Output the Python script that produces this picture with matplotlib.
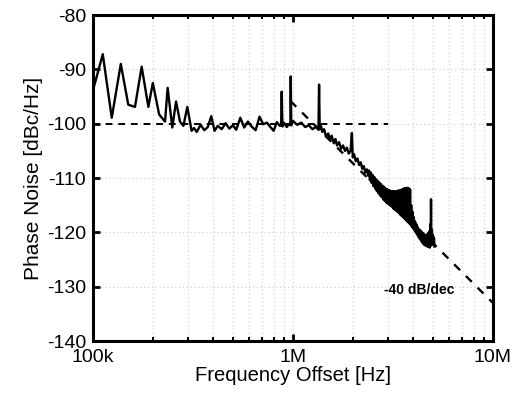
import matplotlib
matplotlib.use("Agg")
from matplotlib import pyplot as plt
from matplotlib.ticker import FixedLocator, FixedFormatter, NullFormatter
import numpy as np

plt.rcParams['font.family'] = ['Liberation Sans', 'DejaVu Sans']
plt.rcParams['axes.unicode_minus'] = False

# measured phase noise trace, low offsets (Hz, dBc/Hz)
f_low = [100e3, 111.8e3, 124e3, 137.6e3, 150e3, 162e3, 175e3, 189e3, 199e3,
         214e3, 229e3, 236e3, 249e3, 260e3, 272e3, 283e3, 296e3, 311e3]
pn_low = [-93.8, -87.2, -98.9, -89.0, -96.5, -96.9, -89.5, -96.9, -92.5,
          -98.3, -99.6, -93.4, -100.7, -95.9, -99.6, -100.4, -96.9, -101.3]

# flat region up to 1 MHz
f_mid = [320e3, 330e3, 345e3, 360e3, 375e3, 390e3, 405e3, 420e3, 440e3, 460e3,
         480e3, 500e3, 520e3, 545e3, 570e3, 595e3, 620e3, 650e3, 680e3, 710e3,
         740e3, 770e3, 800e3, 830e3, 860e3, 872e3, 878e3, 885e3, 900e3, 930e3,
         960e3, 970e3, 974e3, 980e3]
pn_mid = [-100.8, -101.5, -100.2, -101.2, -100.6, -98.6, -101.3, -100.4, -101.0, -99.9,
          -100.9, -100.3, -101.1, -98.9, -100.7, -99.6, -100.5, -101.2, -98.7, -100.1,
          -99.8, -100.6, -101.3, -99.7, -100.4, -100.2, -94.1, -100.5, -99.8, -100.6,
          -100.0, -100.2, -91.3, -100.3]

# start of the roll-off, 1 MHz to 2.4 MHz
f_roll = [1.0, 1.05, 1.1, 1.15, 1.2, 1.25, 1.3, 1.34, 1.35, 1.36,
          1.38, 1.40, 1.43, 1.46, 1.50, 1.53, 1.56, 1.60, 1.63, 1.66,
          1.70, 1.74, 1.78, 1.82, 1.86, 1.90, 1.94, 1.97, 1.99, 2.02,
          2.06, 2.10, 2.14, 2.18, 2.22, 2.26, 2.30, 2.34, 2.38]
pn_roll = [-99.5, -100.2, -99.8, -100.6, -100.3, -101.0, -100.6, -101.1, -92.8, -101.0,
           -100.4, -101.5, -101.0, -102.3, -101.8, -103.0, -102.2, -103.6, -102.8, -104.0,
           -103.4, -104.6, -104.0, -105.0, -104.4, -105.5, -105.0, -101.7, -106.2, -105.6,
           -106.9, -106.4, -107.6, -107.1, -108.3, -107.8, -109.0, -108.4, -109.6]

# dense noisy band, 2.4 MHz to 5.1 MHz
f_band = [2.400, 2.425, 2.450, 2.475, 2.500, 2.525, 2.550, 2.575, 2.600, 2.625,
          2.650, 2.675, 2.700, 2.725, 2.750, 2.775, 2.800, 2.825, 2.850, 2.875,
          2.900, 2.925, 2.950, 2.975, 3.000, 3.025, 3.050, 3.075, 3.100, 3.125,
          3.150, 3.175, 3.200, 3.225, 3.250, 3.275, 3.300, 3.325, 3.350, 3.375,
          3.400, 3.425, 3.450, 3.475, 3.500, 3.525, 3.550, 3.575, 3.600, 3.625,
          3.650, 3.675, 3.700, 3.725, 3.750, 3.775, 3.800, 3.825, 3.850, 3.875,
          3.900, 3.930, 3.960, 3.990, 4.020, 4.050, 4.080, 4.110, 4.140, 4.170,
          4.200, 4.230, 4.260, 4.290, 4.320, 4.350, 4.380, 4.410, 4.440, 4.470,
          4.500, 4.530, 4.560, 4.590, 4.620, 4.650, 4.680, 4.710, 4.740, 4.770,
          4.800, 4.830, 4.860, 4.880, 4.900, 4.920, 4.950, 4.980, 5.010, 5.040,
          5.070, 5.100]
pn_band = [-108.6, -110.4, -109.0, -110.9, -109.4, -111.5, -109.8, -111.9, -110.2, -112.4,
           -110.5, -112.8, -110.8, -113.2, -111.1, -113.5, -111.4, -113.9, -111.6, -114.2,
           -111.9, -114.5, -112.0, -114.7, -112.2, -114.9, -112.3, -115.1, -112.4, -115.3,
           -112.4, -115.6, -112.4, -115.8, -112.5, -116.0, -112.4, -116.2, -112.3, -116.4,
           -112.3, -116.7, -112.2, -116.9, -112.1, -117.1, -112.0, -117.3, -111.9, -117.5,
           -111.9, -117.8, -111.8, -118.0, -111.8, -118.2, -111.9, -118.4, -112.1, -118.6,
           -115.0, -119.0, -116.2, -119.3, -117.2, -119.6, -118.0, -120.0, -118.5, -120.4,
           -119.0, -120.8, -119.4, -121.1, -119.7, -121.4, -120.1, -121.8, -120.4, -122.1,
           -120.6, -122.3, -120.6, -122.4, -120.5, -122.5, -120.4, -122.6, -120.1, -122.7,
           -119.8, -122.8, -118.5, -122.5, -113.9, -121.5, -119.5, -122.3, -120.5, -122.2,
           -121.0, -122.6]

# asymptote lines
flat_f = [100e3, 3e6]
flat_pn = [-100, -100]
slope_f = [0.97e6, 10e6]
slope_pn = [-95.8, -133.0]

freq = f_low + f_mid + [v * 1e6 for v in f_roll + f_band]
pn = pn_low + pn_mid + pn_roll + pn_band

fig = plt.figure(figsize=(5.2, 3.97), dpi=100)
ax = fig.add_axes([0.179, 0.141, 0.769, 0.821])

ax.plot(slope_f, slope_pn, color='black', lw=1.7, dashes=(3.5, 3.5))
ax.plot(flat_f, flat_pn, color='black', lw=1.4, dashes=(3.5, 3))
ax.plot(freq, pn, color='black', lw=1.7)

ax.set_xscale('log')
ax.set_xlim(1e5, 1e7)
ax.set_ylim(-140, -80)
ax.xaxis.set_major_locator(FixedLocator([1e5, 1e6, 1e7]))
ax.xaxis.set_major_formatter(FixedFormatter(['100k', '1M', '10M']))
ax.xaxis.set_minor_locator(FixedLocator([k * 10**e for e in (5, 6) for k in range(2, 10)]))
ax.xaxis.set_minor_formatter(NullFormatter())
ax.set_yticks(np.arange(-140, -79, 10))

ax.grid(True, which='both', color='#cccccc', ls=(0, (1, 2.5)), lw=0.8)
ax.tick_params(which='major', direction='in', length=5, width=2, top=True, right=True,
               labelsize=14)
ax.tick_params(axis='x', which='major', pad=6)
ax.tick_params(axis='y', which='major', pad=5)
ax.tick_params(which='minor', direction='in', length=3, width=1.5, top=True, right=True)
for s in ax.spines.values():
    s.set_linewidth(2.2)

ax.set_xlabel('Frequency Offset [Hz]', fontsize=14.5, labelpad=0)
ax.set_ylabel('Phase Noise [dBc/Hz]', fontsize=15, labelpad=3)
ax.text(4.3e6, -130.6, '-40 dB/dec', fontsize=10, fontweight='bold',
        ha='center', va='center')

plt.savefig('out.png', dpi=100)
